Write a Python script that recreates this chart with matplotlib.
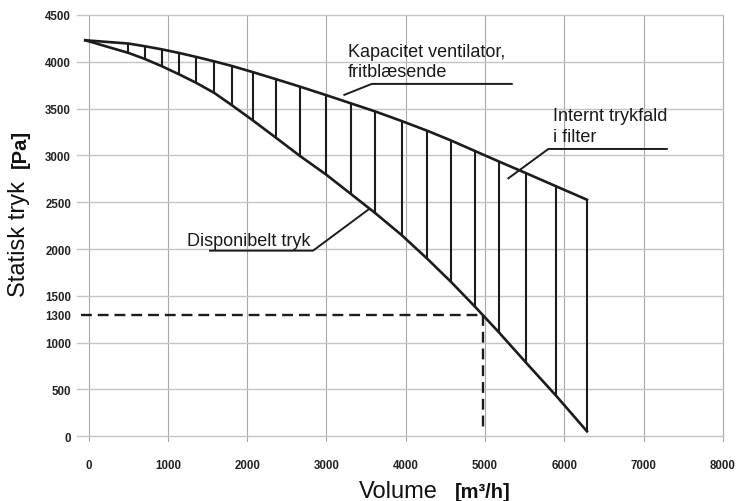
import matplotlib
matplotlib.use("Agg")
import matplotlib.pyplot as plt

# ---- data ----
volume = [-40, 504, 712, 932, 1145, 1359, 1585, 1810, 2071, 2362, 2665, 2997,
          3306, 3614, 3947, 4273, 4570, 4878, 5175, 5513, 5899, 6285]
fan_pressure = [4230, 4195, 4166, 4132, 4094, 4052, 4005, 3955, 3890, 3815, 3735, 3644,
                3557, 3470, 3368, 3263, 3160, 3045, 2935, 2812, 2669, 2527]
available_pressure = [4230, 4095, 4030, 3950, 3865, 3775, 3668, 3535, 3375, 3190, 2995, 2795,
                      2590, 2385, 2150, 1895, 1650, 1380, 1110, 790, 430, 53]

x_ticks = [0, 1000, 2000, 3000, 4000, 5000, 6000, 7000, 8000]
y_ticks = [0, 500, 1000, 1500, 2000, 2500, 3000, 3500, 4000, 4500]
marked_pressure = 1300
marked_volume = 4980
marked_bottom = 80

plt.rcParams["font.family"] = ["Liberation Sans", "DejaVu Sans"]

fig = plt.figure(figsize=(7.38, 5.02), dpi=100)
ax = fig.add_axes([88.5 / 738, 1 - 437.3 / 502, (723 - 88.5) / 738, (437.3 - 16) / 502])
ax.set_xlim(0, 8000)
ax.set_ylim(0, 4500)
for s in ax.spines.values():
    s.set_visible(False)

# grid
for xv in x_ticks:
    ax.plot([xv, xv], [-55, 4500], color="#a8a8a8", lw=0.8, clip_on=False, zorder=1)
for yv in y_ticks:
    ax.plot([-140, 8000], [yv, yv], color="#c4c4c4", lw=1.0, clip_on=False, zorder=1)

ax.set_xticks(x_ticks)
ax.set_yticks(y_ticks)
ax.set_yticks([marked_pressure], minor=True)
ax.set_yticklabels([str(marked_pressure)], minor=True)
ax.tick_params(axis="both", which="both", length=0, labelsize=8.3, labelcolor="#222222")
ax.tick_params(axis="x", pad=16)
ax.tick_params(axis="y", which="both", pad=12.5)
for lab in ax.get_xticklabels() + ax.get_yticklabels() + ax.get_yticklabels(minor=True):
    lab.set_fontweight("bold")

# curves
ax.plot(volume, fan_pressure, color="#1c1c1c", lw=1.9, clip_on=False, zorder=3,
        solid_joinstyle="round")
ax.plot(volume, available_pressure, color="#1c1c1c", lw=1.9, clip_on=False, zorder=3,
        solid_joinstyle="round")
ax.vlines(volume[1:], available_pressure[1:], fan_pressure[1:], color="#1c1c1c", lw=1.5, zorder=3)

# dashed markers
ax.plot([-90, marked_volume], [marked_pressure, marked_pressure], color="#1c1c1c", lw=1.7,
        dashes=(4.6, 2.5), clip_on=False, zorder=2)
ax.plot([marked_volume, marked_volume], [marked_pressure, marked_bottom], color="#1c1c1c", lw=1.7,
        dashes=(4.6, 2.5), zorder=2)

# annotations
tk = dict(fontsize=13, color="#1a1a1a", ha="left", va="baseline")
ax.text(3272, 4060, "Kapacitet ventilator,", **tk)
ax.text(3272, 3853, "fritblæsende", **tk)
ax.plot([3226, 3571, 5337], [3647, 3764, 3764], color="#1c1c1c", lw=1.4)

ax.text(5861, 3379, "Internt trykfald", **tk)
ax.text(5861, 3155, "i filter", **tk)
ax.plot([5294, 5798, 7291], [2756, 3069, 3069], color="#1c1c1c", lw=1.4)

ax.text(1246, 2047, "Disponibelt tryk", **tk)
ax.plot([3528, 2831, 1532], [2421, 1983, 1983], color="#1c1c1c", lw=1.4)

# axis labels
fig.text(19 / 738, 1 - 239 / 502, "Statisk tryk", rotation=90, ha="center", va="center",
         fontsize=17, color="#111111")
fig.text(20 / 738, 1 - 149 / 502, "[Pa]", rotation=90, ha="center", va="center",
         fontsize=14.5, fontweight="bold", color="#111111")
fig.text(398.7 / 738, 3.7 / 502, "Volume", ha="center", va="baseline", fontsize=17, color="#111111")
fig.text(483 / 738, 3.7 / 502, "[m³/h]", ha="center", va="baseline", fontsize=14.5,
         fontweight="bold", color="#111111")

fig.savefig("out.png", dpi=100)
